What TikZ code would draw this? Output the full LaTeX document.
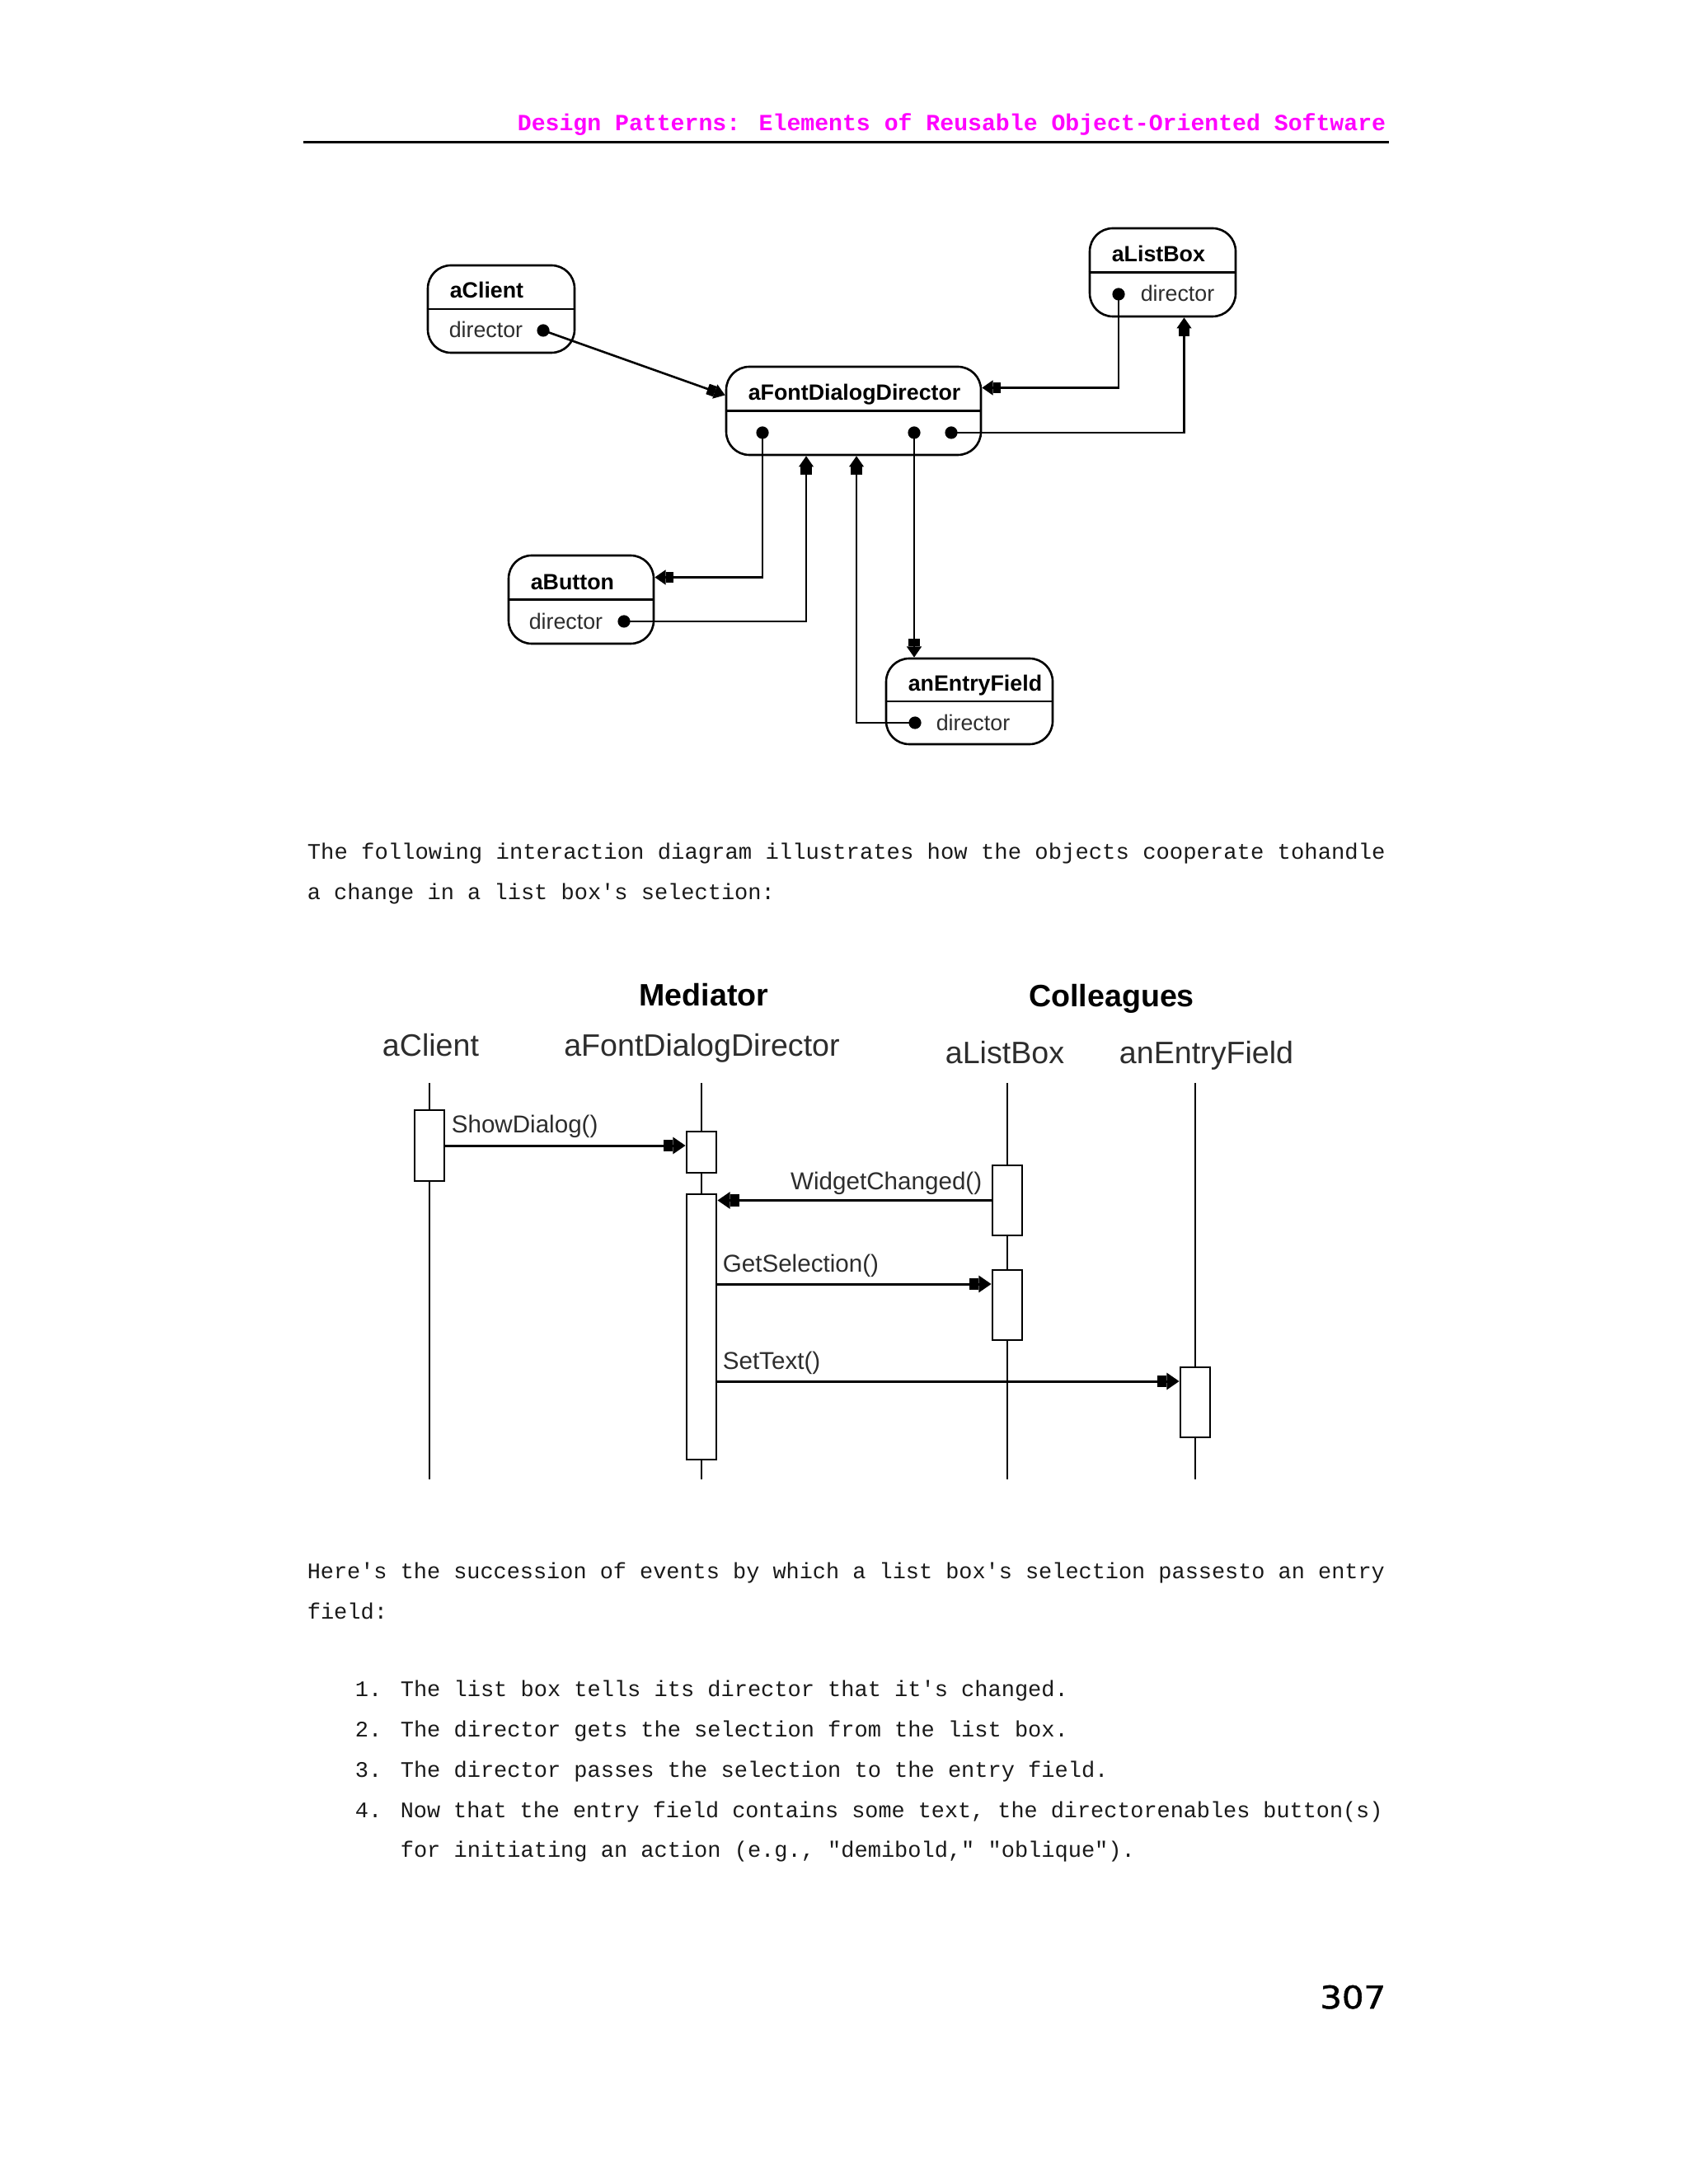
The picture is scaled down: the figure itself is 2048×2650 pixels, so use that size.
\documentclass[tikz,border=0pt]{standalone}
\usepackage{fontspec}
\usetikzlibrary{arrows.meta,calc}
\newfontfamily\hvf{Liberation Sans}
\newfontfamily\courf{Liberation Mono}
\newfontfamily\dvf[FakeBold=1.2]{DejaVu Sans}
\definecolor{hdrmag}{RGB}{255,0,255}
\definecolor{txtgray}{RGB}{45,45,45}
\begin{document}
\begin{tikzpicture}[x=0.25pt,y=-0.25pt,
  objbox/.style={draw, line width=0.65pt, rounded corners=7pt, inner sep=0pt, fill=white},
  divider/.style={line width=0.65pt},
  objname/.style={font=\hvf\bfseries\fontsize{6.7pt}{8pt}\selectfont, anchor=west, inner sep=0pt, text height=4.8pt, text depth=0pt},
  attr/.style={font=\hvf\fontsize{6.7pt}{8pt}\selectfont, text=txtgray, anchor=west, inner sep=0pt, text height=4.8pt, text depth=0pt},
  dot/.style={circle, fill, inner sep=0pt, minimum size=3.8pt},
  link/.style={line width=0.65pt, -{Rectangle[length=2.3pt,width=3.3pt,sep=0pt]Triangle[length=3.3pt,width=4.4pt,sep=0pt]}},
  lifeline/.style={line width=0.5pt},
  act/.style={draw, fill=white, line width=0.7pt, inner sep=0pt, minimum width=9pt},
  msg/.style={line width=0.75pt, -{Rectangle[length=2.8pt,width=3.6pt,sep=0pt]Triangle[length=3.8pt,width=5pt,sep=0pt]}},
  msglbl/.style={font=\hvf\fontsize{7.4pt}{9pt}\selectfont, text=txtgray, inner sep=0pt, text height=5.3pt, text depth=0pt},
  colhead/.style={font=\hvf\bfseries\fontsize{9.4pt}{11pt}\selectfont, inner sep=0pt, text height=6.73pt, text depth=0pt},
  objhead/.style={font=\hvf\fontsize{9.4pt}{11pt}\selectfont, text=txtgray, inner sep=0pt, text height=6.73pt, text depth=0pt},
  body/.style={font=\courf\fontsize{6.75pt}{8pt}\selectfont, text=black!90, anchor=base west, inner sep=0pt}
]
\useasboundingbox[fill=white] (0,0) rectangle (2048,2650);

% ---------- running header ----------
\node[font=\courf\bfseries\fontsize{7.04pt}{8pt}\selectfont, text=hdrmag, anchor=base east, inner sep=0pt] (hdr) at (1682,159) {Design Patterns: Elements of Reusable Object-Oriented Software};
\coordinate (ruleL) at (368,173);
\coordinate (ruleR) at (1685,173);
\draw[line width=0.75pt] (ruleL) -- (ruleR);

% ---------- object diagram ----------
\node[objbox, minimum width=44.5pt, minimum height=26.5pt] (client) at (608,375) {};
\node[objbox, minimum width=77.25pt, minimum height=26.75pt] (fdd) at (1035.5,498.5) {};
\node[objbox, minimum width=44.25pt, minimum height=26.75pt] (listbox) at (1410.5,330.5) {};
\node[objbox, minimum width=44pt, minimum height=26.75pt] (button) at (705,727.5) {};
\node[objbox, minimum width=50.5pt, minimum height=26pt] (entry) at (1176,851) {};

\draw[divider] (client.west) -- (client.east);
\draw[divider] (fdd.west) -- (fdd.east);
\draw[divider] (listbox.west) -- (listbox.east);
\draw[divider] (button.west) -- (button.east);
\draw[divider] (entry.west) -- (entry.east);

\node[objname] (clientT) at (545,351.5) {aClient};
\node[attr] (clientA) at (544,400) {director};
\node[objname] (fddT) at (907,475.5) {aFontDialogDirector};
\node[objname] (listboxT) at (1348,307.5) {aListBox};
\node[attr] (listboxA) at (1383,356) {director};
\node[objname] (buttonT) at (643,705.5) {aButton};
\node[attr] (buttonA) at (641,754) {director};
\node[objname] (entryT) at (1101,828.5) {anEntryField};
\node[attr] (entryA) at (1135,877) {director};

\node[dot] (cdot) at (659,401) {};
\node[dot] (ldot) at (1357,357) {};
\node[dot] (bdot) at (757,754) {};
\node[dot] (edot) at (1110,877) {};
\node[dot] (fdot1) at (925,525) {};
\node[dot] (fdot2) at (1109,525) {};
\node[dot] (fdot3) at (1154,525) {};

\draw[link] (cdot.center) -- ($(fdd.west |- fddT.west)+(0,4)$);
\draw[link] (ldot.center) |- ($(fdd.east |- fddT.west)+(0,-5)$);
\draw[link] (fdot3.center) -| ($(listbox.south)+(26,0)$);
\draw[link] (fdot1.center) |- ($(button.east |- buttonT.west)+(0,-5)$);
\draw[link] (bdot.center) -| ($(fdd.south)+(-57.5,0)$);
\draw[link] (edot.center) -| ($(fdd.south)+(3.5,0)$);
\draw[link] (fdot2.center) -- (fdot2.center |- entry.north);

% ---------- paragraph ----------
\node[body, xscale=1.009] (p1a) at (372,1042.5) {The following interaction diagram illustrates how the objects cooperate tohandle};
\node[body] (p1b) at (372,1091) {a change in a list box's selection:};

% ---------- interaction diagram ----------
\node[colhead] (hMed) at (854,1207) {Mediator};
\node[colhead] (hCol) at (1348.5,1208.5) {Colleagues};
\node[objhead] (hCl) at (522.5,1268) {aClient};
\node[objhead] (hFdd) at (851.5,1268.5) {aFontDialogDirector};
\node[objhead] (hLb) at (1219,1277) {aListBox};
\node[objhead] (hEf) at (1463.5,1277) {anEntryField};

\coordinate (lcT) at (521,1314);  \coordinate (lcB) at (521,1795);
\coordinate (ldT) at (851,1314);  \coordinate (ldB) at (851,1795);
\coordinate (llT) at (1222,1314); \coordinate (llB) at (1222,1795);
\coordinate (leT) at (1450,1314); \coordinate (leB) at (1450,1795);
\draw[lifeline] (lcT) -- (lcB);
\draw[lifeline] (ldT) -- (ldB);
\draw[lifeline] (llT) -- (llB);
\draw[lifeline] (leT) -- (leB);

\node[act, minimum height=21.5pt] (ac1) at (521,1390) {};
\node[act, minimum height=12.5pt] (ad1) at (851,1398) {};
\node[act, minimum height=80.5pt] (ad2) at (851,1610) {};
\node[act, minimum height=21.25pt] (al1) at (1222,1456.5) {};
\node[act, minimum height=21.25pt] (al2) at (1222,1583.5) {};
\node[act, minimum height=21.25pt] (ae1) at (1450,1701.5) {};

\coordinate (gsY) at (0,1558);
\coordinate (stY) at (0,1676);
\draw[msg] (ac1.east) -- (ad1.west |- ac1.east);
\draw[msg] (al1.west) -- (ad2.east |- al1.west);
\draw[msg] (ad2.east |- gsY) -- (al2.west |- gsY);
\draw[msg] (ad2.east |- stY) -- (ae1.west |- stY);

\node[msglbl, anchor=west] (lShow) at (547,1364) {ShowDialog()};
\node[msglbl, anchor=east] (lWidget) at (1192,1433) {WidgetChanged()};
\node[msglbl, anchor=west] (lGet) at (876,1533) {GetSelection()};
\node[msglbl, anchor=west] (lSet) at (876,1651) {SetText()};

% ---------- text below ----------
\node[body, xscale=0.996] (p2a) at (372,1915) {Here's the succession of events by which a list box's selection passesto an entry};
\node[body] (p2b) at (372,1964) {field:};

\node[body] (n1) at (430,2058) {1.};
\node[body] (i1) at (485,2058) {The list box tells its director that it's changed.};
\node[body] (n2) at (430,2107) {2.};
\node[body] (i2) at (485,2107) {The director gets the selection from the list box.};
\node[body] (n3) at (430,2156) {3.};
\node[body] (i3) at (485,2156) {The director passes the selection to the entry field.};
\node[body] (n4) at (430,2205) {4.};
\node[body, xscale=0.994] (i4a) at (485,2205) {Now that the entry field contains some text, the directorenables button(s)};
\node[body] (i4b) at (485,2253) {for initiating an action (e.g., "demibold," "oblique").};

\node[font=\dvf\fontsize{9.5pt}{11pt}\selectfont, anchor=base east, inner sep=0pt, xscale=1.1] (pg) at (1682,2437) {307};
\end{tikzpicture}
\end{document}
